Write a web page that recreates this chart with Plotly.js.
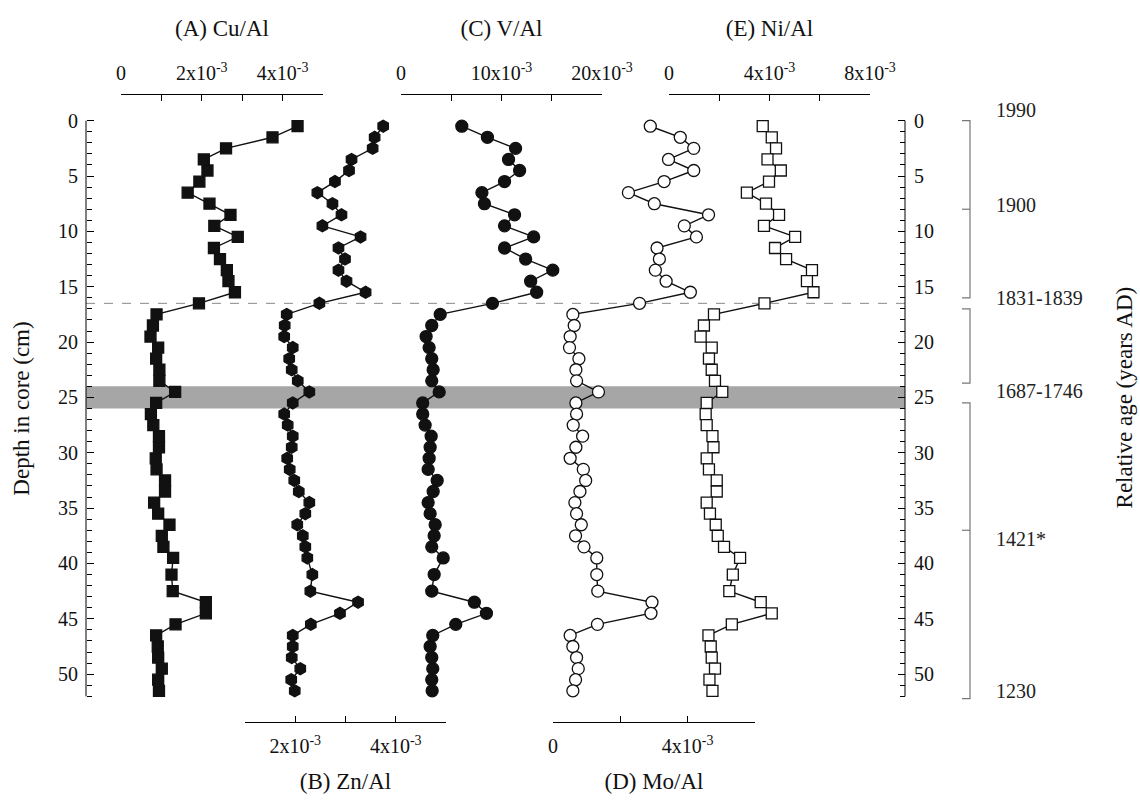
<!DOCTYPE html>
<html><head><meta charset="utf-8">
<script src="https://cdn.plot.ly/plotly-3.0.1.min.js"></script>
<style>html,body{margin:0;padding:0;background:#fff}</style>
</head><body><div id="chart" style="width:1140px;height:806px"></div>
<script>
// depth in core (cm)
const depth = [0.5,1.5,2.5,3.5,4.5,5.5,6.5,7.5,8.5,9.5,10.5,11.5,12.5,13.5,14.5,15.5,16.5,17.5,18.5,19.5,
  20.5,21.5,22.5,23.5,24.5,25.5,26.5,27.5,28.5,29.5,30.5,31.5,32.5,33.5,34.5,35.5,36.5,37.5,38.5,39.5,
  41.0,42.5,43.5,44.5,45.5,46.5,47.5,48.5,49.5,50.5,51.5];
// ratios in units of 10^-3
const cuAl = [4.37,3.75,2.60,2.05,2.14,1.94,1.65,2.19,2.71,2.31,2.89,2.30,2.45,2.62,2.66,2.82,1.93,0.88,0.79,0.73,
  0.92,0.87,0.95,0.95,1.34,0.87,0.74,0.80,0.94,0.94,0.86,0.88,1.09,1.09,0.82,0.92,1.20,1.01,1.05,1.29,
  1.25,1.28,2.10,2.10,1.35,0.87,0.91,0.92,1.01,0.92,0.94];
const znAl = [3.75,3.58,3.54,3.12,3.07,2.79,2.44,2.74,2.92,2.54,3.30,2.86,2.99,2.86,3.02,3.40,2.48,1.83,1.79,1.78,
  1.95,1.88,1.93,2.05,2.28,1.95,1.78,1.85,1.95,1.93,1.84,1.89,1.98,2.07,2.28,2.20,2.04,2.15,2.20,2.24,
  2.34,2.30,3.25,2.89,2.31,1.95,1.95,1.93,2.10,1.92,1.99];
const vAl = [6.05,8.6,11.4,10.7,11.8,10.3,8.05,8.3,11.3,10.3,13.2,10.3,12.4,15.1,12.9,13.5,9.1,3.9,3.06,2.5,
  2.8,3.06,3.2,3.06,3.8,2.16,2.16,2.4,3.0,2.9,2.8,2.7,3.6,3.2,2.7,2.9,3.4,3.3,3.06,4.2,
  3.3,3.06,7.3,8.5,5.45,3.16,2.9,3.06,3.16,3.06,3.1];
const moAl = [2.89,3.78,4.18,3.43,4.18,3.30,2.24,3.01,4.62,3.90,4.26,3.09,3.16,3.04,3.36,4.08,2.57,0.59,0.63,0.51,
  0.49,0.77,0.68,0.70,1.35,0.68,0.70,0.60,0.88,0.68,0.51,0.90,0.97,0.80,0.65,0.70,0.84,0.67,0.92,1.30,
  1.30,1.33,2.94,2.91,1.32,0.51,0.59,0.70,0.75,0.67,0.59];
const niAl = [3.73,4.09,4.26,3.92,4.45,3.98,3.10,3.86,4.38,3.78,5.02,4.22,4.66,5.69,5.49,5.75,3.80,1.79,1.39,1.26,
  1.70,1.59,1.70,1.83,2.12,1.50,1.46,1.50,1.73,1.77,1.50,1.59,1.90,1.90,1.50,1.63,1.86,1.94,2.19,2.83,
  2.54,2.40,3.65,4.09,2.50,1.57,1.66,1.70,1.83,1.61,1.73];

// tick labels (values in units of 10^-3)
const cuTickVals = [0,2,4];
const cuTickText = ['0','2x10<sup>-3</sup>','4x10<sup>-3</sup>'];
const cuMinor = [1,3,5];
const znTickVals = [2,4];
const znTickText = ['2x10<sup>-3</sup>','4x10<sup>-3</sup>'];
const znMinor = [1,3,5];
const vTickVals = [0,10,20];
const vTickText = ['0','10x10<sup>-3</sup>','20x10<sup>-3</sup>'];
const vMinor = [5,15];
const moTickVals = [0,4];
const moTickText = ['0','4x10<sup>-3</sup>'];
const moMinor = [2,6];
const niTickVals = [0,4,8];
const niTickText = ['0','4x10<sup>-3</sup>','8x10<sup>-3</sup>'];
const niMinor = [2,6];
const depthTicks = [0,5,10,15,20,25,30,35,40,45,50];
const depthMinor = [1,2,3,4,6,7,8,9,11,12,13,14,16,17,18,19,21,22,23,24,26,27,28,29,31,32,33,34,36,37,38,39,41,42,43,44,46,47,48,49,51,52];

// age scale
const ageLabels = ['1990','1900','1831-1839','1687-1746','1421*','1230'];
const ageLabelDepth = [-1.0,7.6,16.0,24.4,37.8,51.5];
const bracketTop = [0,17,25.5];
const bracketBottom = [16,23.7,52.2];
const bracketTicks = [8,37];

const FONT = 'Liberation Serif, Times New Roman, serif';
const L = 86, R = 905;
const dom = (a,b) => [(a-L)/(R-L), (b-L)/(R-L)];
const px = v => (v-L)/(R-L);

function xAxis(side, domain, range, tv, tt, minorVals, title) {
  return {
    side: side, anchor: 'y', domain: domain, range: range,
    tickmode: 'array', tickvals: tv, ticktext: tt,
    ticks: 'inside', ticklen: 6, tickwidth: 1, tickcolor: '#000',
    minor: {tickmode: 'array', tickvals: minorVals, ticks: 'inside', ticklen: 6, tickwidth: 1, tickcolor: '#000'},
    showline: true, linecolor: '#000', linewidth: 1,
    showgrid: false, zeroline: false, fixedrange: true,
    ticklabelstandoff: 6,
    tickfont: {family: FONT, size: 20, color: '#111'},
    title: {text: title, font: {family: FONT, size: 23, color: '#111'}, standoff: 16}
  };
}
const yRange = [54.32, -2.32];
function yAxis(side) {
  return {
    range: yRange, side: side, anchor: 'free', position: side === 'left' ? 0 : 1,
    tickmode: 'array', tickvals: depthTicks,
    ticks: 'inside', ticklen: 7, tickwidth: 1, tickcolor: '#000',
    minor: {tickmode: 'array', tickvals: depthMinor, ticks: 'inside', ticklen: 5, tickwidth: 1, tickcolor: '#000'},
    showline: false, showgrid: false, zeroline: false, fixedrange: true,
    ticklabelstandoff: 8,
    tickfont: {family: FONT, size: 20, color: '#111'}
  };
}

const lineStyle = {color: '#111', width: 1.4};
function series(x, xa, symbol, size, fill) {
  return {
    type: 'scatter', mode: 'lines+markers', x: x, y: depth, xaxis: xa, yaxis: 'y',
    line: lineStyle, cliponaxis: false, showlegend: false,
    marker: {symbol: symbol, size: size, color: fill, line: {color: '#111', width: 1.3}}
  };
}

const data = [
  series(cuAl, 'x', 'square', 11, '#111'),
  series(znAl, 'x2', 'hexagon', 12, '#111'),
  series(vAl, 'x3', 'circle', 12, '#111'),
  series(moAl, 'x4', 'circle', 12, '#fff'),
  series(niAl, 'x5', 'square', 11, '#fff'),
  {type: 'scatter', x: [], y: [], xaxis: 'x', yaxis: 'y2', showlegend: false, hoverinfo: 'skip'}
];

const shapes = [
  {type: 'rect', xref: 'paper', yref: 'y', x0: 0, x1: 1, y0: 24, y1: 26, fillcolor: '#a6a6a6', line: {width: 0}, layer: 'below'},
  {type: 'line', xref: 'paper', yref: 'y', x0: 0, x1: 1, y0: 16.5, y1: 16.5, line: {color: '#888', width: 1, dash: 'dash'}, layer: 'below'},
  {type: 'line', xref: 'paper', yref: 'y', x0: 0, x1: 0, y0: 0, y1: 52, line: {color: '#000', width: 1}},
  {type: 'line', xref: 'paper', yref: 'y', x0: 1, x1: 1, y0: 0, y1: 52, line: {color: '#000', width: 1}}
];
const bx = px(970), bt = px(962);
for (let i = 0; i < bracketTop.length; i++) {
  shapes.push({type: 'path', xref: 'paper', yref: 'y',
    path: 'M ' + bt + ' ' + bracketTop[i] + ' L ' + bx + ' ' + bracketTop[i] + ' L ' + bx + ' ' + bracketBottom[i] + ' L ' + bt + ' ' + bracketBottom[i],
    line: {color: '#777', width: 1.2}});
}
bracketTicks.forEach(d => shapes.push({type: 'line', xref: 'paper', yref: 'y', x0: bt, x1: bx, y0: d, y1: d, line: {color: '#777', width: 1.2}}));

const annotations = ageLabels.map((t, i) => ({
  text: t, xref: 'paper', yref: 'y', x: px(994), y: ageLabelDepth[i], xanchor: 'left', yanchor: 'middle',
  showarrow: false, font: {family: FONT, size: 20, color: '#222'}
}));
annotations.push({text: 'Relative age (years AD)', xref: 'paper', yref: 'y', x: px(1124), y: 25, textangle: -90,
  xanchor: 'center', yanchor: 'middle', showarrow: false, font: {family: FONT, size: 23, color: '#111'}});

const yl = yAxis('left');
yl.title = {text: 'Depth in core (cm)', font: {family: FONT, size: 23, color: '#111'}, standoff: 20};

const layout = {
  width: 1140, height: 806,
  margin: {l: 86, r: 235, t: 95, b: 84, pad: 0},
  paper_bgcolor: '#fff', plot_bgcolor: 'rgba(0,0,0,0)',
  showlegend: false,
  xaxis: xAxis('top', dom(121, 323), [0, 5], cuTickVals, cuTickText, cuMinor, '(A) Cu/Al'),
  xaxis2: xAxis('bottom', dom(245, 446), [1, 5], znTickVals, znTickText, znMinor, '(B) Zn/Al'),
  xaxis3: xAxis('top', dom(401, 602), [0, 20], vTickVals, vTickText, vMinor, '(C) V/Al'),
  xaxis4: xAxis('bottom', dom(553, 755), [0, 6], moTickVals, moTickText, moMinor, '(D) Mo/Al'),
  xaxis5: xAxis('top', dom(669, 870), [0, 8], niTickVals, niTickText, niMinor, '(E) Ni/Al'),
  yaxis: yl,
  yaxis2: Object.assign(yAxis('right'), {overlaying: 'y'}),
  shapes: shapes,
  annotations: annotations
};

Plotly.newPlot('chart', data, layout, {displayModeBar: false, staticPlot: true});
</script>
</body></html>
